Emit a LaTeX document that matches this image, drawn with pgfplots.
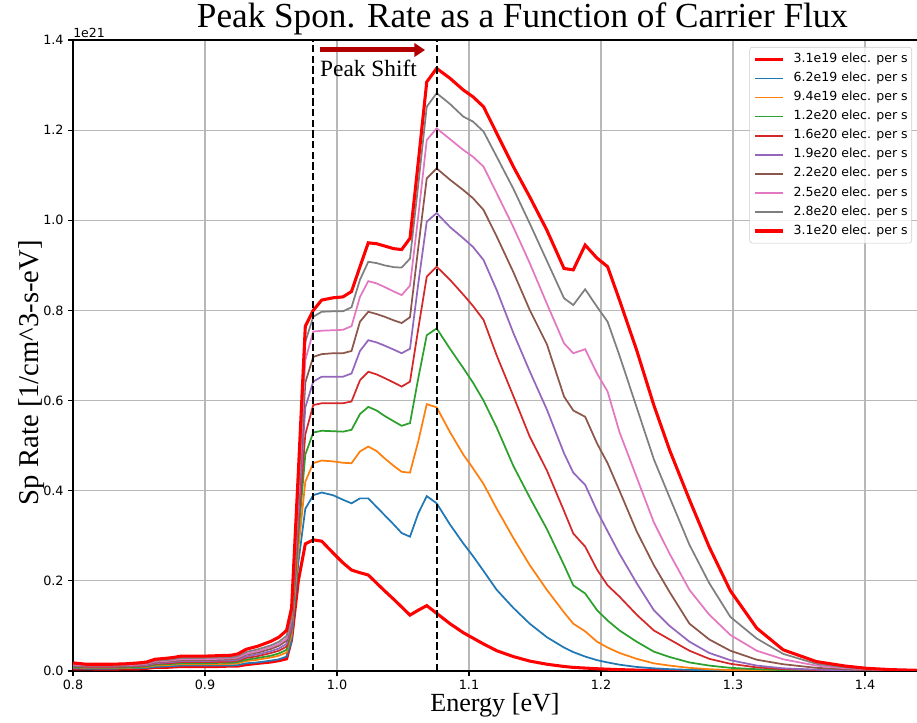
\documentclass[border=0pt]{standalone}
\usepackage{fontspec}
\setmainfont{DejaVu Sans}
\newfontfamily\serif{Liberation Serif}
\usepackage{pgfplots}
\pgfplotsset{compat=1.18}
\usepackage{pgfplotstable}
\usetikzlibrary{arrows.meta}

\definecolor{tabblue}{HTML}{1F77B4}
\definecolor{taborange}{HTML}{FF7F0E}
\definecolor{tabgreen}{HTML}{2CA02C}
\definecolor{tabred}{HTML}{D62728}
\definecolor{tabpurple}{HTML}{9467BD}
\definecolor{tabbrown}{HTML}{8C564B}
\definecolor{tabpink}{HTML}{E377C2}
\definecolor{tabgray}{HTML}{7F7F7F}
\definecolor{brightred}{HTML}{FF0000}
\definecolor{arrowred}{HTML}{B20000}

\pgfplotstableread{
x r1 r2 r3 r4 r5 r6 r7 r8 r9 r10
0.800 0.005 0.006 0.008 0.009 0.011 0.012 0.013 0.014 0.016 0.018
0.810 0.005 0.005 0.007 0.008 0.009 0.010 0.011 0.012 0.013 0.015
0.820 0.004 0.005 0.007 0.008 0.009 0.010 0.011 0.012 0.013 0.015
0.830 0.004 0.005 0.007 0.008 0.009 0.010 0.011 0.012 0.013 0.015
0.840 0.005 0.006 0.007 0.008 0.010 0.011 0.012 0.013 0.014 0.016
0.850 0.005 0.006 0.008 0.009 0.011 0.012 0.013 0.014 0.016 0.018
0.856 0.006 0.007 0.009 0.010 0.012 0.013 0.015 0.016 0.017 0.020
0.862 0.008 0.009 0.012 0.014 0.016 0.017 0.019 0.021 0.023 0.026
0.870 0.008 0.010 0.013 0.015 0.017 0.019 0.021 0.022 0.024 0.028
0.876 0.009 0.011 0.014 0.016 0.018 0.020 0.022 0.024 0.026 0.030
0.882 0.010 0.012 0.015 0.017 0.020 0.022 0.024 0.026 0.029 0.033
0.890 0.010 0.012 0.015 0.017 0.020 0.022 0.024 0.026 0.029 0.033
0.900 0.010 0.012 0.015 0.017 0.020 0.022 0.024 0.026 0.029 0.033
0.910 0.010 0.012 0.015 0.018 0.020 0.023 0.025 0.027 0.030 0.034
0.920 0.011 0.012 0.016 0.018 0.021 0.023 0.026 0.028 0.030 0.035
0.925 0.011 0.013 0.017 0.020 0.023 0.025 0.028 0.030 0.033 0.038
0.931 0.014 0.017 0.022 0.025 0.029 0.032 0.036 0.038 0.042 0.048
0.940 0.017 0.019 0.025 0.029 0.033 0.037 0.041 0.044 0.048 0.055
0.950 0.020 0.023 0.030 0.034 0.040 0.044 0.049 0.053 0.057 0.066
0.956 0.023 0.026 0.034 0.039 0.045 0.050 0.056 0.060 0.065 0.075
0.9618 0.027 0.032 0.041 0.047 0.054 0.060 0.067 0.072 0.078 0.090
0.9656 0.070 0.065 0.080 0.090 0.095 0.100 0.110 0.115 0.120 0.140
0.9707 0.200 0.240 0.270 0.300 0.320 0.340 0.360 0.380 0.400 0.440
0.976 0.282 0.360 0.420 0.480 0.525 0.585 0.640 0.690 0.730 0.765
0.982 0.291 0.390 0.461 0.529 0.590 0.642 0.697 0.753 0.786 0.800
0.9884 0.288 0.396 0.467 0.533 0.594 0.653 0.703 0.755 0.797 0.823
0.997 0.262 0.390 0.465 0.532 0.594 0.653 0.705 0.756 0.798 0.828
1.0045 0.240 0.380 0.462 0.531 0.594 0.653 0.705 0.757 0.798 0.830
1.011 0.224 0.372 0.461 0.535 0.598 0.660 0.710 0.765 0.807 0.842
1.0174 0.218 0.383 0.487 0.570 0.645 0.710 0.775 0.830 0.868 0.897
1.0237 0.213 0.383 0.498 0.586 0.664 0.734 0.797 0.865 0.908 0.950
1.030 0.195 0.364 0.488 0.578 0.658 0.729 0.792 0.860 0.905 0.948
1.036 0.178 0.346 0.472 0.566 0.650 0.722 0.786 0.852 0.900 0.943
1.043 0.159 0.325 0.455 0.554 0.640 0.713 0.778 0.842 0.896 0.937
1.049 0.142 0.306 0.442 0.544 0.631 0.705 0.772 0.834 0.895 0.935
1.0553 0.124 0.298 0.440 0.550 0.642 0.715 0.785 0.855 0.915 0.960
1.0616 0.135 0.350 0.510 0.650 0.760 0.860 0.940 1.010 1.080 1.130
1.068 0.145 0.388 0.592 0.745 0.875 0.997 1.093 1.178 1.252 1.307
1.0755 0.128 0.372 0.585 0.760 0.897 1.016 1.115 1.204 1.282 1.337
1.0856 0.105 0.325 0.530 0.715 0.868 0.985 1.090 1.180 1.258 1.315
1.0957 0.085 0.283 0.480 0.672 0.835 0.960 1.067 1.156 1.230 1.289
1.103 0.073 0.255 0.450 0.640 0.810 0.941 1.049 1.141 1.219 1.274
1.111 0.060 0.222 0.415 0.600 0.779 0.912 1.023 1.119 1.197 1.252
1.121 0.045 0.180 0.360 0.540 0.700 0.845 0.964 1.060 1.141 1.193
1.1336 0.032 0.140 0.295 0.455 0.610 0.750 0.885 0.985 1.070 1.119
1.146 0.022 0.105 0.235 0.385 0.520 0.665 0.801 0.905 0.993 1.052
1.159 0.015 0.075 0.180 0.315 0.445 0.580 0.725 0.815 0.910 0.978
1.172 0.010 0.052 0.130 0.235 0.355 0.483 0.609 0.727 0.827 0.893
1.179 0.008 0.042 0.105 0.190 0.305 0.440 0.578 0.705 0.812 0.890
1.188 0.0065 0.032 0.088 0.172 0.276 0.413 0.564 0.714 0.847 0.945
1.197 0.005 0.024 0.065 0.135 0.225 0.355 0.505 0.660 0.808 0.916
1.205 0.004 0.019 0.052 0.112 0.190 0.310 0.461 0.620 0.775 0.897
1.214 0.003 0.014 0.040 0.090 0.165 0.260 0.400 0.530 0.700 0.823
1.227 0.002 0.009 0.027 0.065 0.125 0.195 0.310 0.430 0.585 0.712
1.240 0.0015 0.006 0.017 0.043 0.090 0.135 0.235 0.330 0.470 0.590
1.252 0.001 0.004 0.012 0.031 0.070 0.100 0.175 0.260 0.385 0.490
1.267 0.0007 0.0025 0.007 0.019 0.045 0.065 0.105 0.180 0.280 0.380
1.282 0.0005 0.0015 0.004 0.012 0.027 0.040 0.070 0.125 0.195 0.275
1.298 0.0003 0.001 0.002 0.007 0.016 0.024 0.045 0.080 0.120 0.178
1.318 0.0002 0.0005 0.001 0.004 0.008 0.012 0.025 0.045 0.072 0.095
1.338 0.0001 0.0003 0.0005 0.002 0.004 0.006 0.015 0.026 0.038 0.047
1.363 0 0.0001 0.0003 0.001 0.002 0.003 0.007 0.012 0.016 0.021
1.385 0 0 0.0001 0.0005 0.001 0.0015 0.004 0.006 0.008 0.011
1.401 0 0 0 0.0003 0.0005 0.001 0.002 0.004 0.005 0.006
1.420 0 0 0 0.0001 0.0003 0.0005 0.001 0.002 0.003 0.003
1.440 0 0 0 0 0.0001 0.0003 0.0005 0.001 0.0015 0.0015
}\data

\begin{document}
\begin{tikzpicture}
\begin{axis}[
  scale only axis, width=633pt, height=473.25pt,
  xmin=0.8, xmax=1.4394, ymin=0, ymax=1.4,
  axis x line*=box, axis y line*=left,
  axis line style={line width=1.6pt, black},
  y axis line style={-},
  xtick={0.8,0.9,1.0,1.1,1.2,1.3,1.4},
  ytick={0,0.2,0.4,0.6,0.8,1.0,1.2,1.4},
  xtick pos=left, ytick pos=left,
  tick align=outside, major tick length=3.5pt,
  tick style={black, line width=0.8pt},
  grid=major, major grid style={line width=0.8pt, color=black!28},
  tick label style={font=\fontsize{9.6}{11}\selectfont},
  /pgf/number format/assume math mode=true,
  xticklabel style={/pgf/number format/fixed, /pgf/number format/fixed zerofill, /pgf/number format/precision=1},
  yticklabel style={/pgf/number format/fixed, /pgf/number format/fixed zerofill, /pgf/number format/precision=1},
  title={Peak Spon. Rate as a Function of Carrier Flux},
  title style={font=\serif\fontsize{26.4}{30}\selectfont, at={(axis description cs:0.5326,1)}, anchor=base, yshift=3pt},
  xlabel={Energy [eV]},
  xlabel style={font=\serif\fontsize{19.6}{24}\selectfont, at={(axis description cs:0.5,0)}, anchor=center, yshift=-25.5pt},
  ylabel={Sp Rate [1/cm\textasciicircum 3-s-eV]},
  ylabel style={font=\serif\fontsize{21.5}{24}\selectfont, at={(axis description cs:-0.049,0.473)}, anchor=center},
  legend cell align=left,
  legend image code/.code={\draw[#1] (0pt,0pt) -- (21pt,0pt);},
  legend style={at={(axis description cs:1,1)}, anchor=north east, xshift=-3.75pt, yshift=-5.25pt,
    draw=black!20, rounded corners=2pt, fill=white, fill opacity=0.8, text opacity=1,
    font=\fontsize{9.4}{11}\selectfont, inner xsep=3pt, inner ysep=4.5pt, row sep=5.1pt,
    nodes={inner sep=0pt, text height=7pt, text depth=2.2pt},
    /tikz/every odd column/.append style={column sep=6.75pt}},
]
\coordinate (SW) at (rel axis cs:0,0);
\coordinate (NE) at (rel axis cs:1,1);
\coordinate (NW) at (rel axis cs:0,1);
\addplot[brightred, line width=2.3pt] table[x=x, y=r1] {\data};
\addlegendentry{3.1e19 elec. per s}
\addplot[tabblue, line width=1.3pt] table[x=x, y=r2] {\data};
\addlegendentry{6.2e19 elec. per s}
\addplot[taborange, line width=1.3pt] table[x=x, y=r3] {\data};
\addlegendentry{9.4e19 elec. per s}
\addplot[tabgreen, line width=1.3pt] table[x=x, y=r4] {\data};
\addlegendentry{1.2e20 elec. per s}
\addplot[tabred, line width=1.3pt] table[x=x, y=r5] {\data};
\addlegendentry{1.6e20 elec. per s}
\addplot[tabpurple, line width=1.3pt] table[x=x, y=r6] {\data};
\addlegendentry{1.9e20 elec. per s}
\addplot[tabbrown, line width=1.3pt] table[x=x, y=r7] {\data};
\addlegendentry{2.2e20 elec. per s}
\addplot[tabpink, line width=1.3pt] table[x=x, y=r8] {\data};
\addlegendentry{2.5e20 elec. per s}
\addplot[tabgray, line width=1.3pt] table[x=x, y=r9] {\data};
\addlegendentry{2.8e20 elec. per s}
\addplot[brightred, line width=2.3pt] table[x=x, y=r10] {\data};
\addlegendentry{3.1e20 elec. per s}
\addplot[black, line width=1.1pt, dash pattern=on 5.5pt off 2.5pt, forget plot] coordinates {(0.9818,0) (0.9818,1.4)};
\addplot[black, line width=1.1pt, dash pattern=on 5.5pt off 2.5pt, forget plot] coordinates {(1.0758,0) (1.0758,1.4)};
\draw[arrowred, line width=3.75pt, -{Triangle[length=8pt,width=10pt]}] (axis cs:0.9871,1.3778) -- (axis cs:1.0667,1.3778);
\node[anchor=base west, inner sep=0pt, font=\serif\fontsize{17.5}{20}\selectfont] at (axis cs:0.9871,1.320) {Peak Shift};
\end{axis}
\node[anchor=south west, inner sep=0pt, font=\fontsize{9.4}{11}\selectfont] at ([yshift=1.5pt]NW) {1e21};
\pgfresetboundingbox
\path[use as bounding box] ([xshift=-54.75pt,yshift=-39pt]SW) rectangle ([yshift=30pt]NE);
\end{tikzpicture}
\end{document}
